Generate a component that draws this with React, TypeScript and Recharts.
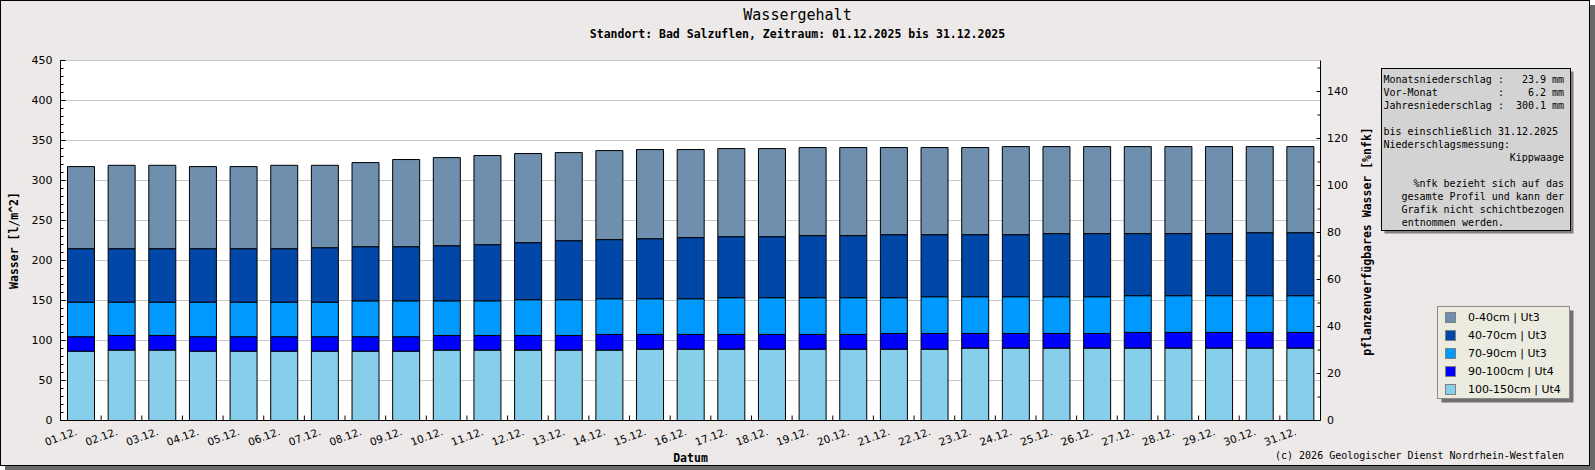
import { BarChart, Bar, XAxis, YAxis, CartesianGrid } from 'recharts'

// Tage im Dezember 2025
const DAYS = [
  '01.12.', '02.12.', '03.12.', '04.12.', '05.12.', '06.12.', '07.12.', '08.12.',
  '09.12.', '10.12.', '11.12.', '12.12.', '13.12.', '14.12.', '15.12.', '16.12.',
  '17.12.', '18.12.', '19.12.', '20.12.', '21.12.', '22.12.', '23.12.', '24.12.',
  '25.12.', '26.12.', '27.12.', '28.12.', '29.12.', '30.12.', '31.12.',
]

// Wasser je Schicht in l/m^2
const L_100_150 = [86.7, 88.0, 88.0, 86.7, 86.7, 86.7, 86.7, 86.7, 86.7, 88.0, 88.0, 88.0, 88.0, 88.0, 89.2, 89.2, 89.2, 89.2, 89.2, 89.2, 89.2, 89.2, 90.5, 90.5, 90.5, 90.5, 90.5, 90.5, 90.5, 90.5, 90.5]
const L_90_100 = [18.0, 18.3, 18.3, 18.0, 18.0, 18.0, 18.0, 18.0, 18.0, 18.3, 18.3, 18.3, 18.3, 19.6, 18.4, 18.4, 18.4, 18.4, 18.4, 18.4, 19.6, 19.6, 18.3, 18.3, 18.3, 18.3, 19.6, 19.6, 19.6, 19.6, 19.6]
const L_70_90 = [43.3, 41.7, 41.7, 43.3, 43.3, 43.3, 43.3, 44.9, 44.9, 43.3, 43.3, 44.7, 44.7, 44.6, 44.6, 44.6, 45.9, 45.9, 45.9, 45.9, 44.7, 45.9, 45.9, 45.9, 45.9, 45.9, 45.9, 45.9, 45.9, 45.9, 45.9]
const L_40_70 = [66.8, 66.8, 66.8, 66.8, 66.8, 66.8, 68.0, 67.7, 67.7, 68.9, 70.2, 71.3, 73.8, 73.9, 75.1, 76.4, 76.3, 76.3, 77.6, 77.6, 78.8, 77.6, 77.6, 77.6, 78.9, 78.9, 77.6, 77.6, 77.6, 78.8, 78.8]
const L_0_40 = [102.6, 104.2, 104.2, 102.6, 102.6, 104.2, 103.0, 105.1, 108.9, 110.1, 111.4, 111.4, 110.1, 111.3, 111.4, 110.1, 110.1, 110.1, 110.1, 110.1, 108.9, 108.9, 108.9, 110.1, 108.8, 108.8, 108.8, 108.8, 108.8, 107.6, 107.6]

// von unten nach oben gestapelt
const SERIES = [
  { key: 'l5', name: '100-150cm | Ut4', color: '#87ceeb', values: L_100_150 },
  { key: 'l4', name: '90-100cm | Ut4', color: '#0000ff', values: L_90_100 },
  { key: 'l3', name: '70-90cm | Ut3', color: '#0099ff', values: L_70_90 },
  { key: 'l2', name: '40-70cm | Ut3', color: '#0047a8', values: L_40_70 },
  { key: 'l1', name: '0-40cm | Ut3', color: '#6f8fae', values: L_0_40 },
]

const LEFT_TICKS = [0, 10, 20, 30, 40, 50, 60, 70, 80, 90, 100, 110, 120, 130, 140, 150, 160, 170, 180, 190, 200, 210, 220, 230, 240, 250, 260, 270, 280, 290, 300, 310, 320, 330, 340, 350, 360, 370, 380, 390, 400, 410, 420, 430, 440, 450]
const GRID_VALUES = [0, 50, 100, 150, 200, 250, 300, 350, 400, 450]
const RIGHT_TICKS = [0, 10, 20, 30, 40, 50, 60, 70, 80, 90, 100, 110, 120, 130, 140, 150]

const INFO_LINES = [
  'Monatsniederschlag :   23.9 mm',
  'Vor-Monat          :    6.2 mm',
  'Jahresniederschlag :  300.1 mm',
  '',
  'bis einschließlich 31.12.2025',
  'Niederschlagsmessung:',
]
const INFO_RIGHT = ['Kippwaage', '', '%nfk bezieht sich auf das', 'gesamte Profil und kann der', 'Grafik nicht schichtbezogen']

const data = DAYS.map((day, i) => {
  const row: Record<string, any> = { day }
  SERIES.forEach(s => { row[s.key] = s.values[i] })
  return row
})

const MONO = 'DejaVu Sans Mono, monospace'
const SANS = 'DejaVu Sans, sans-serif'

function LeftTick(props: any) {
  const { x, y, payload } = props
  const major = payload.value % 50 === 0
  return (
    <g>
      <line x1={x} x2={x + (major ? 5 : 3)} y1={y} y2={y} stroke="#000" />
      {major && (
        <text x={x - 8} y={y} textAnchor="end" dominantBaseline="central" fontSize={11} fontFamily={SANS} fill="#000">
          {payload.value}
        </text>
      )}
    </g>
  )
}

function RightTick(props: any) {
  const { x, y, payload } = props
  const major = payload.value % 20 === 0
  return (
    <g>
      <line x1={x} x2={x - (major ? 4 : 3)} y1={y} y2={y} stroke="#000" />
      {major && (
        <text x={x + 6.5} y={y} textAnchor="start" dominantBaseline="central" fontSize={11} fontFamily={SANS} fill="#000">
          {payload.value}
        </text>
      )}
    </g>
  )
}

function DayTick(props: any) {
  const { x, y, payload, index } = props
  const half = payload.offset ?? 20.3
  const tx = x - 3
  const ty = y + 14
  return (
    <g>
      {index < DAYS.length - 1 && (
        <line x1={x + half} x2={x + half} y1={y} y2={y - 5} stroke="#000" />
      )}
      <text x={tx} y={ty} textAnchor="end" fontSize={10.5} fontFamily={SANS} fill="#000" transform={`rotate(-20 ${tx} ${ty})`}>
        {payload.value}
      </text>
    </g>
  )
}

export default function App() {
  return (
    <div style={{ position: 'absolute', left: 0, top: 0, width: 1595, height: 470, overflow: 'hidden' }}>
      <div style={{ position: 'absolute', left: 5, top: 5, width: 1590, height: 465, background: '#696969' }} />
      <div style={{ position: 'absolute', left: 0, top: 0, width: 1588, height: 464, background: '#ece9e8', border: '1px solid #000' }} />

      <div style={{ position: 'absolute', left: 0, top: 0 }}>
        <BarChart width={1595} height={470} data={data} margin={{ top: 60.5, right: 214.5, bottom: 0, left: 0.5 }}>
          <CartesianGrid yAxisId="left" vertical={false} horizontalValues={GRID_VALUES} stroke="#c8c8c8" fill="#fff" fillOpacity={1} />
          <XAxis
            dataKey="day"
            interval={0}
            height={49.5}
            tickSize={0}
            tickMargin={0}
            tickLine={false}
            axisLine={{ stroke: '#000' }}
            tick={<DayTick />}
          />
          <YAxis
            yAxisId="left"
            width={60}
            domain={[0, 450]}
            ticks={LEFT_TICKS}
            interval={0}
            tickSize={0}
            tickMargin={0}
            tickLine={false}
            axisLine={{ stroke: '#000' }}
            tick={<LeftTick />}
            allowDataOverflow
          />
          <YAxis
            yAxisId="right"
            orientation="right"
            width={60}
            domain={[0, 153.2]}
            ticks={RIGHT_TICKS}
            interval={0}
            tickSize={0}
            tickMargin={0}
            tickLine={false}
            axisLine={{ stroke: '#000' }}
            tick={<RightTick />}
            allowDataOverflow
          />
          {SERIES.map(s => (
            <Bar
              key={s.key}
              yAxisId="left"
              dataKey={s.key}
              name={s.name}
              stackId="wasser"
              fill={s.color}
              stroke="#000"
              strokeWidth={1}
              barSize={27}
              isAnimationActive={false}
            />
          ))}
        </BarChart>
      </div>

      <svg width={1595} height={470} style={{ position: 'absolute', left: 0, top: 0, pointerEvents: 'none' }}>
        <text x={797.5} y={14.5} textAnchor="middle" dominantBaseline="central" fontFamily={MONO} fontSize={15} fill="#000">
          Wassergehalt
        </text>
        <text x={797.5} y={34} textAnchor="middle" dominantBaseline="central" fontFamily={MONO} fontSize={11.5} fontWeight="bold" fill="#000">
          Standort: Bad Salzuflen, Zeitraum: 01.12.2025 bis 31.12.2025
        </text>

        <text x={14} y={240.5} textAnchor="middle" dominantBaseline="central" fontFamily={MONO} fontSize={11.5} fontWeight="bold" transform="rotate(-90 14 240.5)">
          Wasser [l/m^2]
        </text>
        <text x={1367} y={241.5} textAnchor="middle" dominantBaseline="central" fontFamily={MONO} fontSize={11.5} fontWeight="bold" transform="rotate(-90 1367 241.5)">
          pflanzenverfügbares Wasser [%nfk]
        </text>
        <text x={690.5} y={457.5} textAnchor="middle" dominantBaseline="central" fontFamily={MONO} fontSize={11.5} fontWeight="bold">
          Datum
        </text>
        <text x={1275} y={455} dominantBaseline="central" fontFamily={MONO} fontSize={10} fill="#000">
          (c) 2026 Geologischer Dienst Nordrhein-Westfalen
        </text>

        {/* Infobox */}
        <rect x={1384.5} y={71.5} width={189} height={162} fill="#7f7f7f" />
        <rect x={1381.5} y={68.5} width={189} height={162} fill="#d3d3d3" stroke="#000" />
        {INFO_LINES.map((line, i) => (
          <text key={i} x={1383.5} y={79.3 + i * 13} dominantBaseline="central" fontFamily={MONO} fontSize={10} fill="#000" style={{ whiteSpace: 'pre' }}>
            {line}
          </text>
        ))}
        {INFO_RIGHT.map((line, i) => (
          <text key={i} x={1564} y={157.3 + i * 13} textAnchor="end" dominantBaseline="central" fontFamily={MONO} fontSize={10} fill="#000">
            {line}
          </text>
        ))}
        <text x={1401.7} y={222.3} dominantBaseline="central" fontFamily={MONO} fontSize={10} fill="#000">
          entnommen werden.
        </text>

        {/* Legende */}
        <rect x={1441.5} y={310.5} width={132} height={92} fill="#707070" />
        <rect x={1437.5} y={306.5} width={132} height={92} fill="#ecebdf" stroke="#8a8a8a" />
        {[...SERIES].reverse().map((s, i) => (
          <g key={s.key}>
            <rect x={1445.5} y={312.5 + i * 18} width={10} height={10} fill={s.color} stroke="#808080" />
            <text x={1468} y={317.7 + i * 18} dominantBaseline="central" fontFamily={SANS} fontSize={11} fill="#000">
              {s.name}
            </text>
          </g>
        ))}
      </svg>
    </div>
  )
}
